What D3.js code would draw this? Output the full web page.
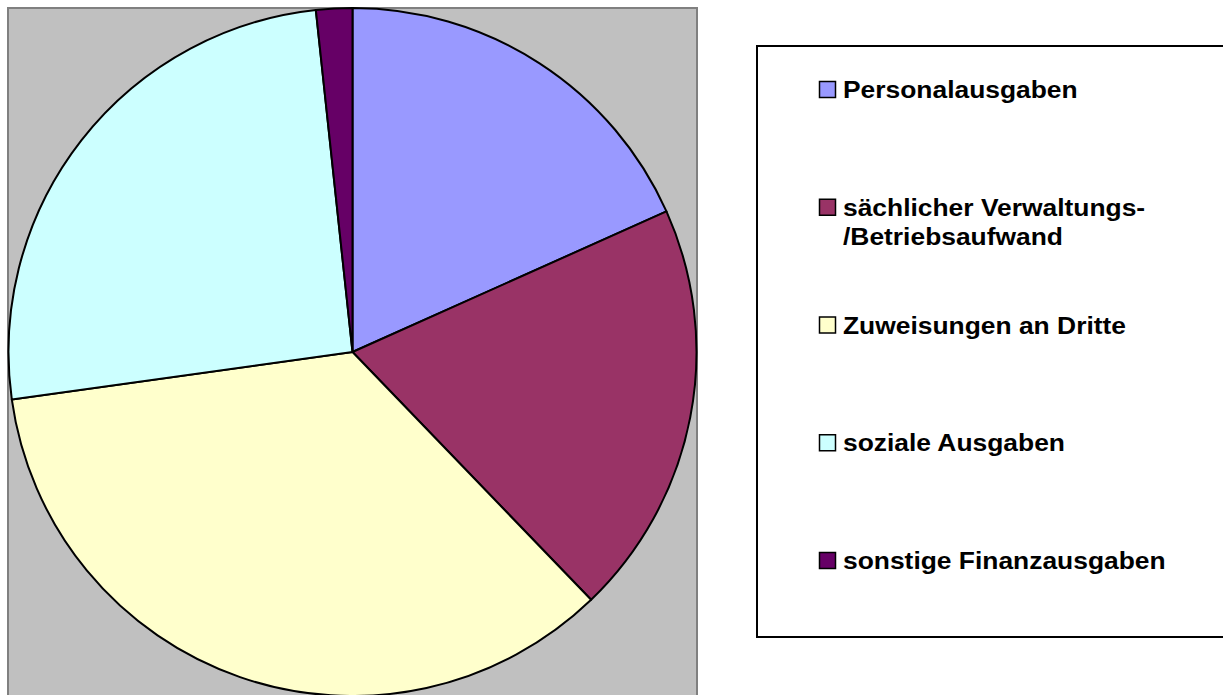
<!DOCTYPE html>
<html>
<head>
<meta charset="utf-8">
<script src="https://cdn.jsdelivr.net/npm/d3@7"></script>
<style>
  html, body { margin: 0; padding: 0; background: #fff; }
  svg { display: block; }
</style>
</head>
<body>
<script>
// Ausgabenanteile in Prozent (aus dem Bild geschaetzt)
const categories = ["Personalausgaben", "sächlicher Verwaltungs-\n/Betriebsaufwand", "Zuweisungen an Dritte", "soziale Ausgaben", "sonstige Finanzausgaben"];
const values = [18.3, 19.5, 35.0, 25.5, 1.7];
const colors = ["#9999FF", "#993366", "#FFFFCC", "#CCFFFF", "#660066"];

const width = 1223, height = 695;
const cx = 352.5, cy = 352, radius = 344;

const data = categories.map((c, i) => ({label: c, value: values[i], color: colors[i]}));

const svg = d3.select("body").append("svg")
    .attr("width", width)
    .attr("height", height);

// Zeichenflaeche (grau)
svg.append("rect")
    .attr("x", 8).attr("y", 8)
    .attr("width", 689).attr("height", 700)
    .attr("fill", "#C0C0C0")
    .attr("stroke", "#808080")
    .attr("stroke-width", 2);

const pie = d3.pie().sort(null).value(d => d.value);
const arc = d3.arc().innerRadius(0).outerRadius(radius);

svg.append("g")
    .attr("transform", `translate(${cx},${cy})`)
    .selectAll("path")
    .data(pie(data))
    .join("path")
    .attr("d", arc)
    .attr("fill", d => d.data.color)
    .attr("stroke", "#000")
    .attr("stroke-width", 2)
    .attr("stroke-linejoin", "round");

// Legende
svg.append("rect")
    .attr("x", 757).attr("y", 46)
    .attr("width", 480).attr("height", 591)
    .attr("fill", "#fff")
    .attr("stroke", "#000")
    .attr("stroke-width", 2);

const ly = d3.scalePoint().domain(categories).range([98, 569]);

const item = svg.append("g")
    .selectAll("g")
    .data(data)
    .join("g")
    .attr("transform", d => `translate(0,${ly(d.label)})`);

item.append("rect")
    .attr("x", 819.5).attr("y", -16.5)
    .attr("width", 16).attr("height", 16)
    .attr("fill", d => d.color)
    .attr("stroke", "#000")
    .attr("stroke-width", 1.5);

item.append("text")
    .attr("transform", "translate(843,0) scale(1.1,1)")
    .attr("font-family", "Liberation Sans, Arial, sans-serif")
    .attr("font-weight", "bold")
    .attr("font-size", 24)
    .attr("fill", "#000")
    .selectAll("tspan")
    .data(d => d.label.split("\n"))
    .join("tspan")
    .attr("x", 0)
    .attr("dy", (d, i) => i === 0 ? 0 : 29)
    .text(d => d);
</script>
</body>
</html>
